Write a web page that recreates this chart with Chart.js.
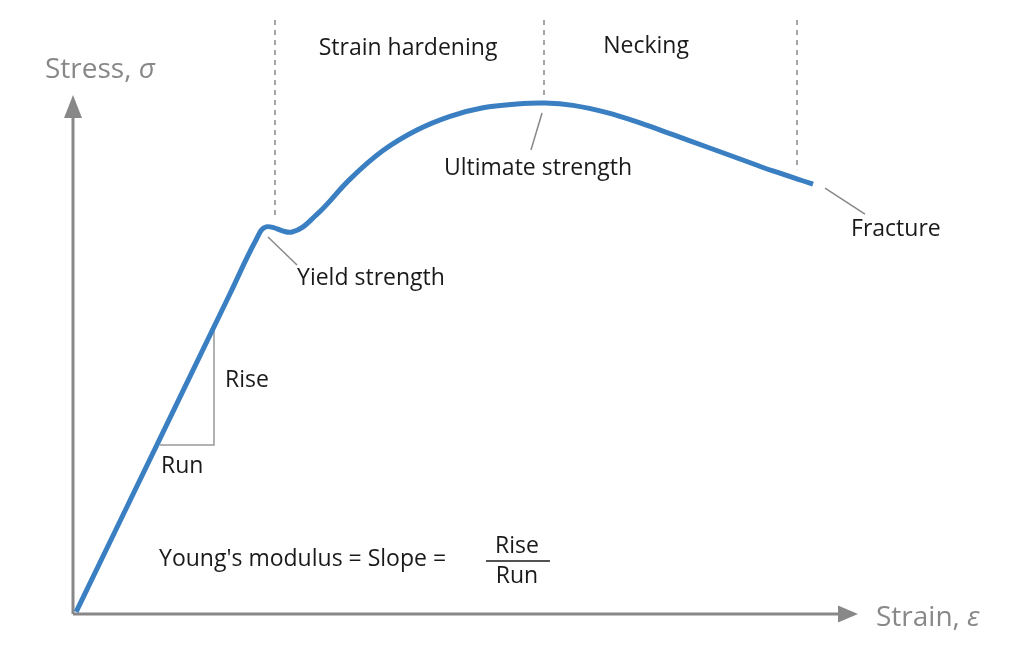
<!DOCTYPE html>
<html>
<head>
<meta charset="utf-8">
<script src="https://cdn.jsdelivr.net/npm/chart.js@4/dist/chart.umd.min.js"></script>
<style>
html,body{margin:0;padding:0;background:#fff;}
canvas{display:block;}
</style>
</head>
<body>
<canvas id="c" width="1024" height="669"></canvas>
<script>
// Stress-strain curve (arbitrary units, strain 0..100, stress 0..100)
const strain = [0.4, 12, 20, 23.31, 24.6, 27.9, 31.0, 35.29, 39.49, 43.82, 48.03, 52.23, 56.56, 60.13, 63.69, 68.03, 72.23, 76.43, 80.76, 84.97, 89.17, 94.27];
const stress = [0.4, 36.69, 61.71, 72.06, 74.6, 73.6, 76.9, 83.8, 89.30, 93.26, 95.90, 97.55, 98.27, 98.46, 98.0, 96.60, 94.61, 92.35, 89.98, 87.67, 85.36, 82.85];

const regionLabels = ["Strain hardening", "Necking"];
const pointLabels = ["Yield strength", "Ultimate strength", "Fracture"];
const axisTitles = [["Strain, ", "ε"], ["Stress, ", "σ"]];

const curve = strain.map((x, i) => ({x: x, y: stress[i]}));

const FONT = '"Open Sans", "Noto Sans", sans-serif';
const AXIS = '#888888';
const INK = '#1a1a1a';

// annotation geometry in data units
const dashed = [ {x: 25.73, y0: 75.9, y1: 114.45}, {x: 60.0, y0: 99.6, y1: 114.45}, {x: 92.23, y0: 85.5, y1: 114.45} ];
const leaders = [
  [24.84, 72.64, 28.54, 67.24],
  [59.75, 96.53, 58.34, 89.40],
  [95.80, 82.08, 100.89, 77.07]
];
const texts = [
  {t: regionLabels[0], x: 42.68, y: 109.06, a: 'center'},
  {t: regionLabels[1], x: 73.0, y: 109.44, a: 'center'},
  {t: pointLabels[0], x: 28.54, y: 64.74, a: 'left'},
  {t: pointLabels[1], x: 59.24, y: 85.93, a: 'center'},
  {t: pointLabels[2], x: 99.11, y: 74.18, a: 'left'},
  {t: 'Rise', x: 19.36, y: 45.09, a: 'left'},
  {t: 'Run', x: 11.21, y: 28.52, a: 'left'},
  {t: "Young's modulus = Slope =", x: 10.96, y: 10.60, a: 'left'},
  {t: 'Rise', x: 56.56, y: 13.10, a: 'center'},
  {t: 'Run', x: 56.56, y: 7.32, a: 'center'}
];

function drawTitle(ctx, parts, x, y) {
  ctx.textAlign = 'left';
  ctx.font = '28px ' + FONT;
  ctx.fillText(parts[0], x, y);
  const w = ctx.measureText(parts[0]).width;
  ctx.font = 'italic 28px ' + FONT;
  ctx.fillText(parts[1], x + w, y);
}

const decor = {
  id: 'decor',
  beforeDatasetsDraw(chart) {
    const ctx = chart.ctx, xs = chart.scales.x, ys = chart.scales.y;
    const X = v => xs.getPixelForValue(v), Y = v => ys.getPixelForValue(v);
    ctx.save();
    // axes
    const ox = X(0), oy = Y(0), xe = X(100), ye = Y(100);
    ctx.strokeStyle = AXIS; ctx.fillStyle = AXIS; ctx.lineWidth = 3;
    ctx.beginPath(); ctx.moveTo(ox, oy); ctx.lineTo(xe - 16, oy); ctx.stroke();
    ctx.beginPath(); ctx.moveTo(ox, oy); ctx.lineTo(ox, ye + 16); ctx.stroke();
    ctx.beginPath(); ctx.moveTo(xe, oy); ctx.lineTo(xe - 20, oy - 8.5); ctx.lineTo(xe - 20, oy + 8.5); ctx.closePath(); ctx.fill();
    ctx.beginPath(); ctx.moveTo(ox, ye); ctx.lineTo(ox - 9, ye + 23); ctx.lineTo(ox + 9, ye + 23); ctx.closePath(); ctx.fill();
    // dashed region separators
    ctx.setLineDash([5, 5]); ctx.lineWidth = 1.5; ctx.strokeStyle = '#888';
    dashed.forEach(d => { ctx.beginPath(); ctx.moveTo(X(d.x), Y(d.y1)); ctx.lineTo(X(d.x), Y(d.y0)); ctx.stroke(); });
    ctx.setLineDash([]);
    // leaders
    ctx.strokeStyle = '#888'; ctx.lineWidth = 1.5;
    leaders.forEach(l => { ctx.beginPath(); ctx.moveTo(X(l[0]), Y(l[1])); ctx.lineTo(X(l[2]), Y(l[3])); ctx.stroke(); });
    // rise/run triangle
    ctx.strokeStyle = '#999'; ctx.lineWidth = 1.5;
    ctx.beginPath(); ctx.moveTo(X(17.96), Y(55.11)); ctx.lineTo(X(17.96), Y(32.56)); ctx.lineTo(X(11.08), Y(32.56)); ctx.stroke();
    // fraction bar
    ctx.strokeStyle = INK; ctx.lineWidth = 1.5;
    ctx.beginPath(); ctx.moveTo(X(52.61), Y(10.21)); ctx.lineTo(X(60.76), Y(10.21)); ctx.stroke();
    // texts
    ctx.fillStyle = INK; ctx.font = '23px ' + FONT; ctx.textBaseline = 'middle';
    texts.forEach(t => { ctx.textAlign = t.a; ctx.fillText(t.t, X(t.x), Y(t.y)); });
    ctx.fillStyle = AXIS;
    drawTitle(ctx, axisTitles[1], X(-3.57), Y(104.82));
    drawTitle(ctx, axisTitles[0], X(102.29), Y(-0.77));
    ctx.restore();
  }
};

new Chart(document.getElementById('c'), {
  type: 'scatter',
  data: { datasets: [{ data: curve, showLine: true, borderColor: '#3a7fc2', borderWidth: 5, pointRadius: 0, tension: 0.4, fill: false }] },
  options: {
    responsive: false, animation: false, devicePixelRatio: 1,
    layout: { padding: { left: 73, right: 166, top: 95, bottom: 55 } },
    plugins: { legend: { display: false }, tooltip: { enabled: false } },
    scales: {
      x: { type: 'linear', min: 0, max: 100, display: false },
      y: { type: 'linear', min: 0, max: 100, display: false }
    }
  },
  plugins: [decor]
});
</script>
</body>
</html>
